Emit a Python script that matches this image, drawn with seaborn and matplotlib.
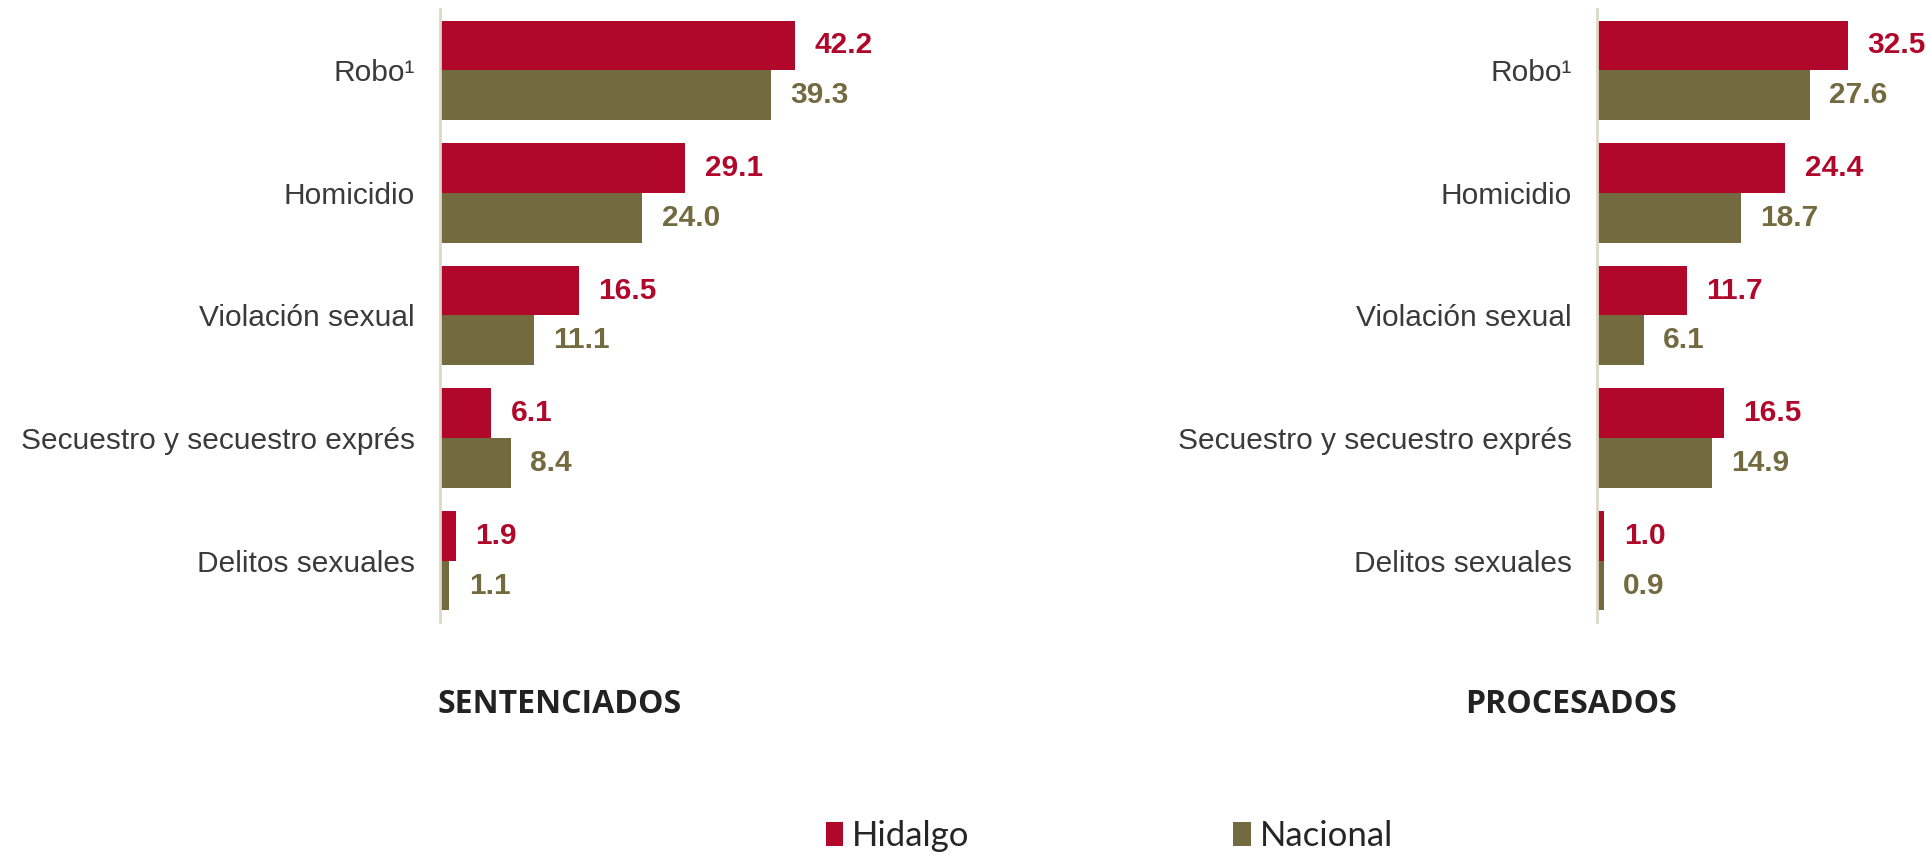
import pandas as pd
import numpy as np

import matplotlib
matplotlib.use("Agg")
import matplotlib.pyplot as plt
import seaborn as sns
from matplotlib.patches import Patch

# data
delitos = ["Robo¹", "Homicidio", "Violación sexual",
           "Secuestro y secuestro exprés", "Delitos sexuales"]
series = ["Hidalgo", "Nacional"]
sent_hidalgo = [42.2, 29.1, 16.5, 6.1, 1.9]
sent_nacional = [39.3, 24.0, 11.1, 8.4, 1.1]
proc_hidalgo = [32.5, 24.4, 11.7, 16.5, 1.0]
proc_nacional = [27.6, 18.7, 6.1, 14.9, 0.9]
titles = ["SENTENCIADOS", "PROCESADOS"]

colors = {"Hidalgo": "#B0072B", "Nacional": "#736A40"}
spine_col = "#DDD8C4"


def long_df(hid, nac):
    return pd.DataFrame({
        "delito": delitos * 2,
        "serie": ["Hidalgo"] * len(delitos) + ["Nacional"] * len(delitos),
        "valor": list(hid) + list(nac),
    })


sns.set_theme(style="white")
plt.rcParams["font.family"] = ["Liberation Sans", "DejaVu Sans"]

fig = plt.figure(figsize=(19.26, 8.55), dpi=100)
ax_sent = fig.add_axes([0.2285, 0.2725, 0.226, 0.717])
ax_proc = fig.add_axes([0.8290, 0.2725, 0.160, 0.717])


def draw_panel(ax, df, xmax):
    sns.barplot(data=df, y="delito", x="valor", hue="serie",
                hue_order=series, order=delitos, palette=colors,
                width=0.81, orient="h", saturation=1, legend=False,
                linewidth=0, ax=ax)
    ax.set_xlim(0, xmax)
    ax.set_ylim(len(delitos) - 0.5, -0.5)
    for cont, s in zip(ax.containers, series):
        ax.bar_label(cont, fmt="%.1f", padding=14, color=colors[s],
                     fontsize=21.5, fontweight="bold")
    ax.set_xlabel("")
    ax.set_ylabel("")
    ax.set_xticks([])
    for side in ["top", "right", "bottom"]:
        ax.spines[side].set_visible(False)
    ax.spines["left"].set_color(spine_col)
    ax.spines["left"].set_linewidth(2)
    ax.tick_params(axis="y", which="major", length=0, pad=18,
                   labelsize=21.5, labelcolor="#3a3a3a")
    ax.set_yticks(np.arange(-0.5, len(delitos), 1.0), minor=True)
    ax.tick_params(axis="y", which="minor", length=7, width=2,
                   color=spine_col, direction="out")


draw_panel(ax_sent, long_df(sent_hidalgo, sent_nacional), 51.7)
draw_panel(ax_proc, long_df(proc_hidalgo, proc_nacional), 39.9)

fig.text(560 / 1926, 1 - 704 / 855, titles[0], ha="center", va="center",
         fontsize=23, fontweight="bold", family=["Open Sans", "DejaVu Sans"],
         color="#222222")
fig.text(1571 / 1926, 1 - 704 / 855, titles[1], ha="center", va="center",
         fontsize=23, fontweight="bold", family=["Open Sans", "DejaVu Sans"],
         color="#222222")

handles = [Patch(facecolor=colors[s], edgecolor="none") for s in series]
fig.legend(handles, series, loc="center", bbox_to_anchor=(0.576, 1 - 836 / 855),
           ncol=2, frameon=False, columnspacing=7.6, handlelength=0.5,
           handleheight=0.7, handletextpad=0.25,
           prop={"family": ["Lato", "DejaVu Sans"], "size": 25})

fig.savefig("out.png", dpi=100)
